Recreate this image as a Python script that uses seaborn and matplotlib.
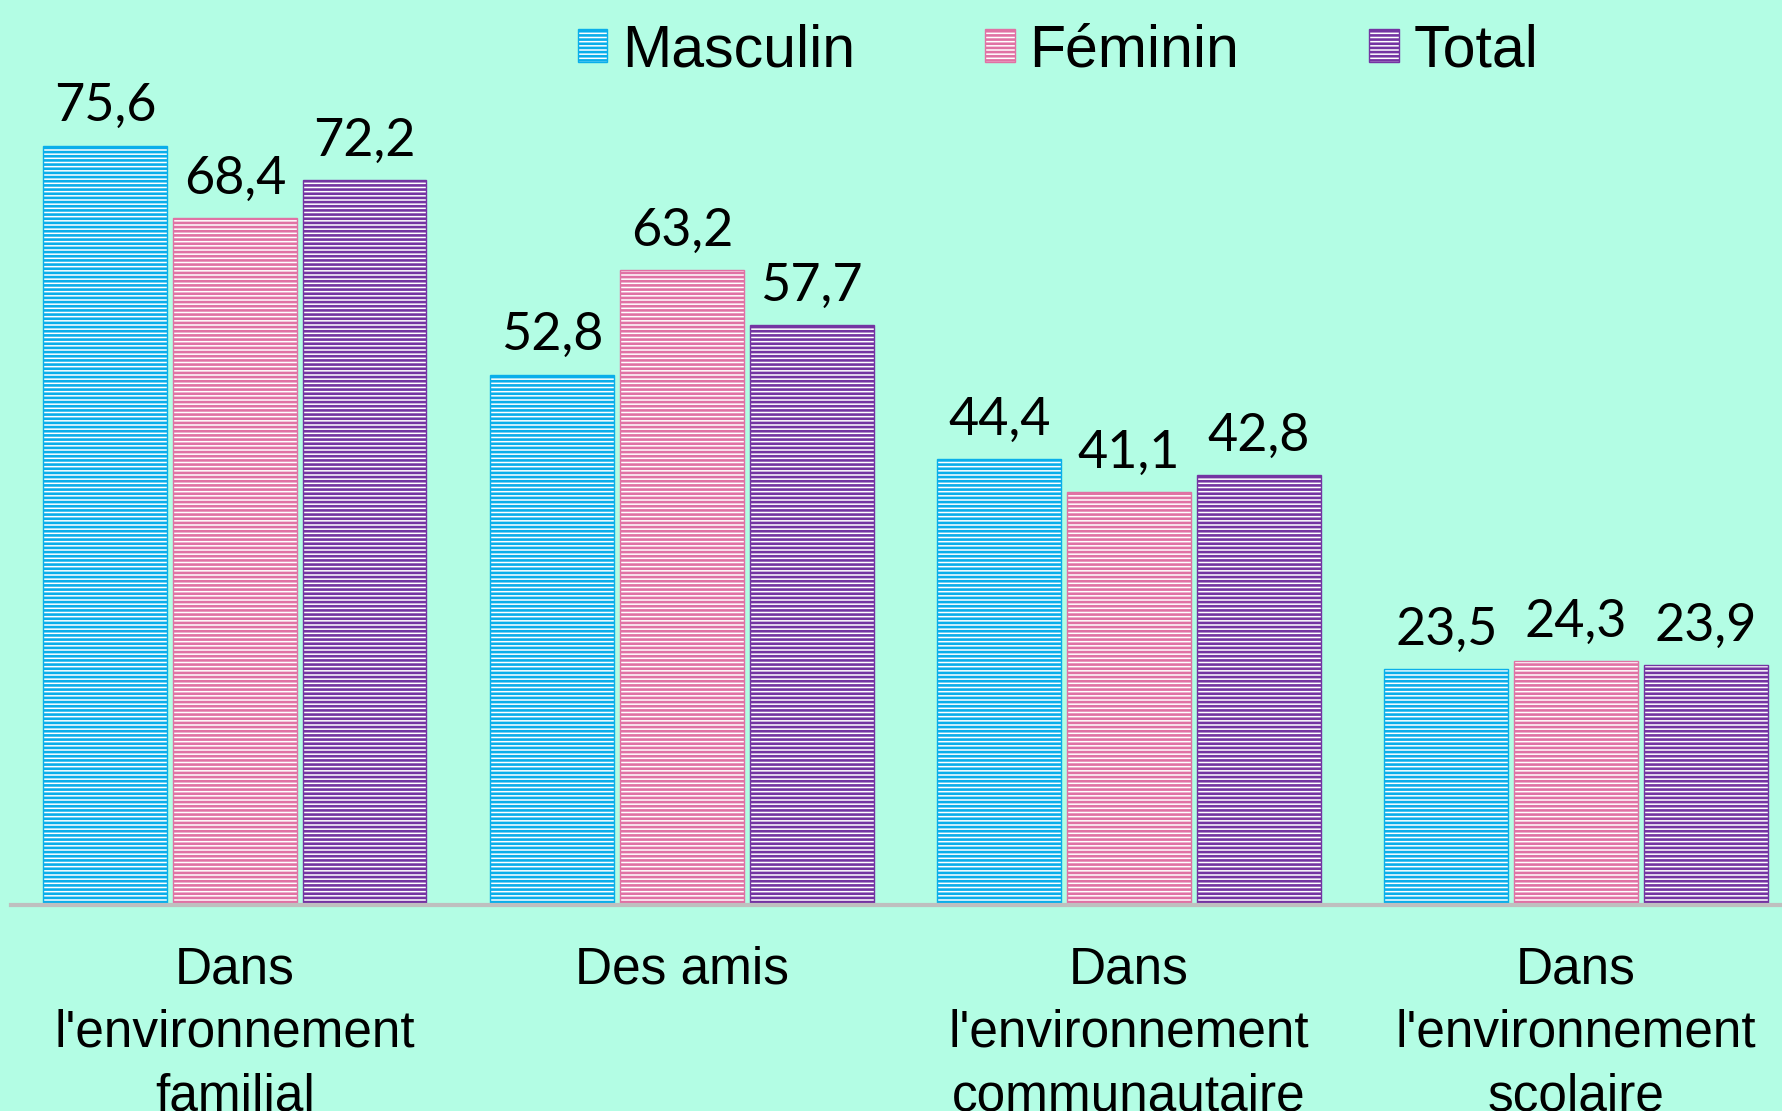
import matplotlib
matplotlib.use('Agg')
import matplotlib.pyplot as plt
from matplotlib.patches import Patch
import seaborn as sns
import pandas as pd

categories = ["Dans\nl'environnement\nfamilial", "Des amis",
              "Dans\nl'environnement\ncommunautaire", "Dans\nl'environnement\nscolaire"]
series = ["Masculin", "Féminin", "Total"]
masculin = [75.6, 52.8, 44.4, 23.5]
feminin = [68.4, 63.2, 41.1, 24.3]
total = [72.2, 57.7, 42.8, 23.9]

colors = ["#0aaeea", "#e072a4", "#7434a2"]
bg = "#b3fde4"

df = pd.DataFrame({
    "cat": categories * 3,
    "serie": [s for s in series for _ in categories],
    "val": masculin + feminin + total,
})

sns.set_style("white")
plt.rcParams['hatch.linewidth'] = 1.9
plt.rcParams['font.family'] = ['Liberation Sans', 'DejaVu Sans']
plt.rcParams['text.color'] = 'black'
plt.rcParams['xtick.color'] = 'black'

W, H = 1783, 1111
fig = plt.figure(figsize=(W / 100, H / 100), dpi=100, facecolor=bg)
ax = fig.add_axes([11 / W, (H - 905) / H, 1 - 11 / W, 905 / H])
ax.set_facecolor(bg)

sns.barplot(data=df, x="cat", y="val", hue="serie", hue_order=series,
            palette=colors, width=0.87, gap=0.045, legend=False, ax=ax)

for cont, c in zip(ax.containers, colors):
    for bar in cont:
        bar.set_facecolor("white")
        bar.set_edgecolor(c)
        bar.set_hatch("----")
        bar.set_linewidth(1)
    ax.bar_label(cont, labels=[f"{v:.1f}".replace(".", ",") for v in cont.datavalues],
                 padding=11, fontsize=37.5, family="Lato", color="black")

ax.set_xlim(-0.501, 3.463)
ax.set_ylim(0, 90.1)
ax.set_xlabel("")
ax.set_ylabel("")
ax.set_yticks([])
for s in ["top", "left", "right"]:
    ax.spines[s].set_visible(False)
ax.spines["bottom"].set_color("#bfbfbf")
ax.spines["bottom"].set_linewidth(3)
ax.tick_params(axis="x", length=0, pad=29, labelsize=37, labelcolor="black")
for lab in ax.get_xticklabels():
    lab.set_linespacing(1.38)
    lab.set_verticalalignment("top")

handles = [Patch(facecolor="white", edgecolor=c, hatch="----", linewidth=1) for c in colors]
fig.legend(handles, series, loc="center", bbox_to_anchor=(1058 / W, 1 - 51 / H),
           ncol=3, frameon=False, fontsize=42.5, handlelength=0.5, handleheight=0.5,
           handletextpad=0.25, columnspacing=2.2, borderpad=0, borderaxespad=0)

fig.savefig("out.png", dpi=100, facecolor=bg)
